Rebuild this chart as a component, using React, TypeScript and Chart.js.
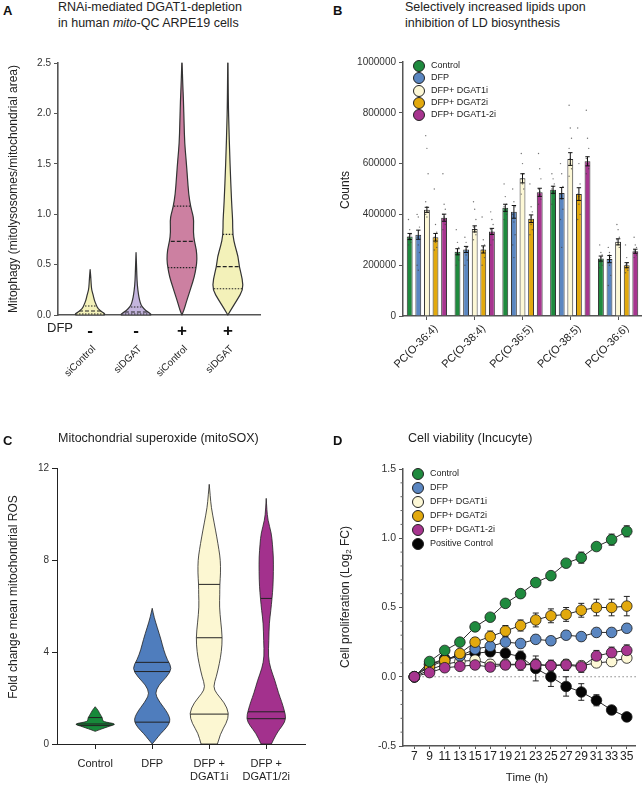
import React, { useEffect, useRef } from "react";
import { Chart, registerables } from "chart.js";

Chart.register(...registerables);

const FONT = "'Liberation Sans', Arial, Helvetica, sans-serif";
Chart.defaults.font.family = FONT;
Chart.defaults.color = "#222";

// ---------------- Panel A data ----------------
const aGroupLabels = ["siControl", "siDGAT", "siControl", "siDGAT"];
const aDfpLabels = ["-", "-", "+", "+"];
const aYTicks = [0, 0.5, 1, 1.5, 2, 2.5];
const aLevels1 = [0, 0.01, 0.03, 0.06, 0.1, 0.15, 0.2, 0.25, 0.3, 0.38, 0.45];
const aDensity1 = [0.93, 1, 0.8, 0.53, 0.4, 0.27, 0.2, 0.1, 0.07, 0.04, 0];
const aLevels2 = [0, 0.01, 0.03, 0.06, 0.1, 0.15, 0.2, 0.3, 0.4, 0.5, 0.62];
const aDensity2 = [0.97, 1, 0.77, 0.52, 0.32, 0.23, 0.16, 0.08, 0.05, 0.03, 0];
const aLevels3 = [0, 0.05, 0.12, 0.2, 0.28, 0.38, 0.47, 0.55, 0.65, 0.73, 0.82, 0.94, 1.0, 1.07, 1.2, 1.37, 1.55, 1.7, 1.9, 2.13, 2.3, 2.5];
const aDensity3 = [0, 0.14, 0.27, 0.44, 0.61, 0.82, 0.93, 1, 0.95, 0.82, 0.75, 0.78, 0.71, 0.58, 0.44, 0.36, 0.27, 0.18, 0.14, 0.1, 0.05, 0.01];
const aLevels4 = [0, 0.05, 0.15, 0.25, 0.35, 0.48, 0.58, 0.68, 0.79, 0.94, 1.05, 1.21, 1.4, 1.6, 1.86, 2.1, 2.5];
const aDensity4 = [0, 0.2, 0.61, 1, 0.97, 0.75, 0.68, 0.48, 0.32, 0.32, 0.27, 0.22, 0.17, 0.12, 0.07, 0.03, 0.01];
const aMedians = [0.04, 0.03, 0.73, 0.48];
const aLowerQ = [0.01, 0.01, 0.47, 0.26];
const aUpperQ = [0.09, 0.08, 1.08, 0.8];
const aColors = ["#f3f1b9", "#c4b5de", "#cc80a1", "#f3f1b9"];

// ---------------- Panel B data ----------------
const bCategories = ["PC(O-36:4)", "PC(O-38:4)", "PC(O-36:5)", "PC(O-38:5)", "PC(O-36:6)"];
const bSeriesNames = ["Control", "DFP", "DFP+ DGAT1i", "DFP+ DGAT2i", "DFP+ DGAT1-2i"];
const bYTicks = [0, 200000, 400000, 600000, 800000, 1000000];
const bControl = [313000, 253000, 426000, 497000, 226000];
const bDFP = [320000, 262000, 410000, 484000, 224000];
const bDGAT1i = [418000, 343000, 542000, 618000, 292000];
const bDGAT2i = [310000, 262000, 383000, 480000, 200000];
const bDGAT12i = [387000, 333000, 487000, 609000, 255000];
const bControlErr = [12000, 12000, 14000, 14000, 10000];
const bDFPErr = [18000, 12000, 25000, 22000, 14000];
const bDGAT1iErr = [10000, 12000, 18000, 25000, 12000];
const bDGAT2iErr = [15000, 14000, 15000, 25000, 10000];
const bDGAT12iErr = [14000, 12000, 16000, 18000, 8000];
const bControlPts = [
  [380000, 340000, 320000, 310000, 300000, 290000, 280000, 300000],
  [340000, 290000, 270000, 250000, 240000, 220000, 200000, 260000],
  [520000, 470000, 440000, 430000, 410000, 400000, 380000, 420000],
  [560000, 540000, 520000, 500000, 480000, 460000, 440000, 510000],
  [280000, 250000, 240000, 220000, 210000, 200000, 190000, 230000],
];
const bDFPPts = [
  [400000, 390000, 350000, 310000, 280000, 250000, 200000, 180000],
  [310000, 290000, 270000, 250000, 240000, 220000, 200000, 260000],
  [500000, 450000, 430000, 400000, 370000, 320000, 280000, 230000],
  [600000, 560000, 510000, 480000, 460000, 420000, 380000, 270000],
  [270000, 250000, 230000, 210000, 200000, 160000, 120000, 240000],
];
const bDGAT1iPts = [
  [710000, 660000, 560000, 450000, 430000, 410000, 400000, 390000],
  [450000, 420000, 380000, 350000, 330000, 320000, 300000, 340000],
  [640000, 600000, 560000, 540000, 520000, 500000, 480000, 560000],
  [830000, 740000, 700000, 660000, 620000, 580000, 550000, 600000],
  [360000, 340000, 310000, 290000, 280000, 270000, 300000, 290000],
];
const bDGAT2iPts = [
  [500000, 360000, 330000, 310000, 290000, 270000, 260000, 300000],
  [390000, 300000, 280000, 260000, 250000, 230000, 200000, 270000],
  [520000, 430000, 410000, 380000, 360000, 340000, 320000, 390000],
  [740000, 600000, 520000, 480000, 440000, 400000, 380000, 470000],
  [280000, 230000, 210000, 200000, 190000, 180000, 170000, 205000],
];
const bDGAT12iPts = [
  [560000, 440000, 420000, 400000, 380000, 360000, 340000, 390000],
  [410000, 380000, 360000, 340000, 320000, 300000, 280000, 330000],
  [640000, 580000, 540000, 500000, 480000, 460000, 440000, 490000],
  [810000, 700000, 660000, 620000, 600000, 580000, 560000, 610000],
  [310000, 280000, 270000, 260000, 250000, 240000, 230000, 255000],
];

// ---------------- Panel C data ----------------
const cLabels = [["Control"], ["DFP"], ["DFP +", "DGAT1i"], ["DFP +", "DGAT1/2i"]];
const cYTicks = [0, 4, 8, 12];
const cLevels1 = [0.55, 0.62, 0.7, 0.78, 0.85, 0.9, 0.95, 1.0, 1.1, 1.2, 1.3, 1.45, 1.62];
const cDensity1 = [0, 0.21, 0.47, 0.74, 1, 0.89, 0.53, 0.37, 0.37, 0.32, 0.24, 0.16, 0];
const cLevels2 = [0, 0.2, 0.46, 0.7, 0.97, 1.2, 1.48, 1.7, 1.9, 2.2, 2.57, 2.9, 3.29, 3.65, 4.1, 4.52, 5.1, 5.5, 5.9];
const cDensity2 = [0, 0.19, 0.43, 0.71, 0.9, 0.86, 0.67, 0.48, 0.32, 0.14, 0.33, 0.71, 1, 0.76, 0.57, 0.45, 0.24, 0.1, 0];
const cLevels3 = [0, 0.47, 0.9, 1.33, 1.8, 2.2, 2.49, 2.93, 3.5, 4.0, 4.62, 5.3, 5.97, 6.5, 6.94, 7.43, 8.0, 8.43, 9.0, 9.6, 10.3, 10.8, 11.29];
const cDensity3 = [0.41, 0.56, 0.86, 1, 0.76, 0.36, 0.2, 0.36, 0.51, 0.61, 0.66, 0.58, 0.51, 0.53, 0.53, 0.57, 0.56, 0.49, 0.38, 0.25, 0.1, 0.05, 0];
const cLevels4 = [0, 0.46, 0.8, 1.1, 1.48, 1.85, 2.2, 2.78, 3.3, 3.8, 4.5, 5.25, 5.8, 6.33, 6.84, 7.5, 8.14, 8.7, 9.16, 9.74, 10.2, 10.68];
const cDensity4 = [0.26, 0.51, 0.82, 1, 0.9, 0.77, 0.62, 0.43, 0.21, 0.1, 0.13, 0.15, 0.23, 0.29, 0.34, 0.36, 0.36, 0.31, 0.26, 0.08, 0.03, 0];
const cQuartiles = [
  [0.8, 0.87, 1.15],
  [0.95, 3.15, 3.55],
  [1.3, 4.62, 6.94],
  [1.1, 1.4, 6.33],
];
const cColors = ["#17893a", "#4f7dbd", "#fcf7d2", "#a3318d"];

// ---------------- Panel D data ----------------
const dTimes = [7, 9, 11, 13, 15, 17, 19, 21, 23, 25, 27, 29, 31, 33, 35];
const dYTicks = [-0.5, 0, 0.5, 1, 1.5];
const dMinorTicks = [-0.4, -0.3, -0.2, -0.1, 0.1, 0.2, 0.3, 0.4, 0.6, 0.7, 0.8, 0.9, 1.1, 1.2, 1.3, 1.4];
const dSeriesNames = ["Control", "DFP", "DFP+ DGAT1i", "DFP+ DGAT2i", "DFP+ DGAT1-2i", "Positive Control"];
const dControl = [0, 0.11, 0.19, 0.25, 0.36, 0.43, 0.53, 0.6, 0.68, 0.73, 0.82, 0.86, 0.94, 0.99, 1.05];
const dDFP = [0, 0.09, 0.12, 0.15, 0.2, 0.22, 0.25, 0.24, 0.27, 0.26, 0.3, 0.29, 0.32, 0.32, 0.35];
const dDGAT1i = [0, 0.05, 0.09, 0.11, 0.12, 0.09, 0.09, 0.09, 0.09, 0.08, 0.09, 0.08, 0.1, 0.11, 0.135];
const dDGAT2i = [0, 0.075, 0.116, 0.168, 0.25, 0.29, 0.33, 0.37, 0.41, 0.44, 0.45, 0.48, 0.5, 0.5, 0.51];
const dDGAT12i = [0, 0.03, 0.065, 0.075, 0.085, 0.07, 0.085, 0.087, 0.087, 0.08, 0.085, 0.072, 0.15, 0.174, 0.19];
const dPositive = [0, 0.09, 0.13, 0.15, 0.17, 0.18, 0.17, 0.145, 0.06, 0, -0.07, -0.11, -0.17, -0.24, -0.29];
const dControlErr = [0, 0.015, 0.02, 0.015, 0.015, 0.015, 0.02, 0.02, 0.02, 0.02, 0.02, 0.04, 0.02, 0.04, 0.04];
const dDFPErr = [0, 0.02, 0.02, 0.02, 0.03, 0.03, 0.03, 0.03, 0.03, 0.03, 0.03, 0.03, 0.03, 0.03, 0.03];
const dDGAT1iErr = [0, 0.02, 0.02, 0.02, 0.03, 0.03, 0.03, 0.03, 0.03, 0.03, 0.03, 0.03, 0.03, 0.03, 0.03];
const dDGAT2iErr = [0, 0.02, 0.02, 0.03, 0.03, 0.04, 0.04, 0.04, 0.05, 0.05, 0.05, 0.05, 0.06, 0.06, 0.07];
const dDGAT12iErr = [0, 0.01, 0.02, 0.02, 0.02, 0.03, 0.03, 0.04, 0.04, 0.04, 0.04, 0.04, 0.04, 0.04, 0.04];
const dPositiveErr = [0, 0.02, 0.02, 0.02, 0.02, 0.03, 0.03, 0.04, 0.09, 0.07, 0.07, 0.06, 0.04, 0.02, 0.02];

const SERIES_COLORS = ["#1f8a3e", "#5a86c1", "#fdf8d6", "#e2a90d", "#a7358f", "#050505"];

// ---------------- helpers ----------------
type Violin = {
  pos: number;
  levels: number[];
  density: number[];
  fill: string;
  lines: { v: number; dash: number[] }[];
};

function smoothSide(ctx: any, pts: number[][]) {
  for (let i = 1; i < pts.length - 1; i++) {
    const mx = (pts[i][0] + pts[i + 1][0]) / 2;
    const my = (pts[i][1] + pts[i + 1][1]) / 2;
    ctx.quadraticCurveTo(pts[i][0], pts[i][1], mx, my);
  }
  const last = pts[pts.length - 1];
  ctx.lineTo(last[0], last[1]);
}

function makeViolinPlugin(violins: Violin[], maxHalf: number, outline: string, outlineW: number, lineW: number) {
  return {
    id: "violins",
    afterDatasetsDraw(chart: any) {
      const { ctx } = chart;
      const x = chart.scales.x;
      const y = chart.scales.y;
      for (const v of violins) {
        const cx = x.getPixelForValue(v.pos);
        const hw = x.getPixelForValue(v.pos + maxHalf) - cx;
        const right = v.levels.map((l, i) => [cx + v.density[i] * hw, y.getPixelForValue(l)]);
        const left = right.map(([px, py]) => [2 * cx - px, py]).reverse();
        const path = new Path2D();
        path.moveTo(right[0][0], right[0][1]);
        smoothSide(path, right);
        path.lineTo(left[0][0], left[0][1]);
        smoothSide(path, left);
        path.closePath();
        ctx.save();
        ctx.fillStyle = v.fill;
        ctx.fill(path);
        ctx.save();
        ctx.clip(path);
        ctx.strokeStyle = "#222";
        ctx.lineWidth = lineW;
        for (const ln of v.lines) {
          const py = y.getPixelForValue(ln.v);
          ctx.setLineDash(ln.dash);
          ctx.beginPath();
          ctx.moveTo(cx - hw - 2, py);
          ctx.lineTo(cx + hw + 2, py);
          ctx.stroke();
        }
        ctx.restore();
        ctx.setLineDash([]);
        ctx.strokeStyle = outline;
        ctx.lineWidth = outlineW;
        ctx.lineJoin = "round";
        ctx.stroke(path);
        ctx.restore();
      }
    },
  };
}

function fixedTicks(values: number[]) {
  return (s: any) => {
    s.ticks = values.map((v) => ({ value: v }));
  };
}

function ChartCanvas(props: { left: number; top: number; width: number; height: number; make: () => any }) {
  const ref = useRef<HTMLCanvasElement>(null);
  useEffect(() => {
    const chart = new Chart(ref.current as HTMLCanvasElement, props.make());
    return () => chart.destroy();
  }, []);
  return (
    <canvas
      ref={ref}
      width={props.width}
      height={props.height}
      style={{ position: "absolute", left: props.left, top: props.top, width: props.width, height: props.height }}
    />
  );
}

// ---------------- chart configs ----------------
function makeA() {
  const levels = [aLevels1, aLevels2, aLevels3, aLevels4];
  const dens = [aDensity1, aDensity2, aDensity3, aDensity4];
  const violins: Violin[] = levels.map((lv, i) => ({
    pos: i + 1,
    levels: lv,
    density: dens[i],
    fill: aColors[i],
    lines: [
      { v: aLowerQ[i], dash: [1.5, 1.5] },
      { v: aMedians[i], dash: [4, 2] },
      { v: aUpperQ[i], dash: [1.5, 1.5] },
    ],
  }));
  const xTicks = aGroupLabels.map((_, i) => i + 1);
  return {
    type: "scatter",
    data: { datasets: [{ data: [] }] },
    options: {
      responsive: false,
      animation: false,
      layout: { padding: { top: 13, right: 10, left: 0, bottom: 0 } },
      plugins: { legend: { display: false }, tooltip: { enabled: false } },
      scales: {
        x: {
          type: "linear",
          min: 0.3,
          max: 4.7,
          position: "bottom",
          weight: 0,
          afterBuildTicks: fixedTicks(xTicks),
          afterFit: (s: any) => {
            s.height = 20;
          },
          grid: { display: false },
          border: { display: true, color: "#555", width: 1.6 },
          ticks: {
            callback: (v: number) => aDfpLabels[Math.round(v) - 1],
            font: { size: 17, weight: "bold", lineHeight: 1 },
            color: "#111",
            padding: 0,
            autoSkip: false,
            maxRotation: 0,
          },
        },
        x2: {
          type: "linear",
          min: 0.3,
          max: 4.7,
          position: "bottom",
          weight: 1,
          afterBuildTicks: fixedTicks(xTicks),
          afterFit: (s: any) => {
            s.height = 45;
          },
          grid: { display: false },
          border: { display: false },
          ticks: {
            callback: (v: number) => aGroupLabels[Math.round(v) - 1],
            font: { size: 10 },
            color: "#222",
            minRotation: 45,
            maxRotation: 45,
            autoSkip: false,
            padding: 0,
            labelOffset: 4,
          },
        },
        y: {
          type: "linear",
          min: 0,
          max: 2.5,
          afterBuildTicks: fixedTicks(aYTicks),
          afterFit: (s: any) => {
            s.width = 58;
          },
          grid: { display: true, drawOnChartArea: false, drawTicks: true, tickLength: 4, color: "#555" },
          border: { display: true, color: "#555", width: 1.6 },
          ticks: { callback: (v: number) => v.toFixed(1), font: { size: 10 }, color: "#333", padding: 3 },
        },
      },
    },
    plugins: [makeViolinPlugin(violins, 0.33, "#333", 1.2, 1.1)],
  };
}

function makeB() {
  const means = [bControl, bDFP, bDGAT1i, bDGAT2i, bDGAT12i];
  const errs = [bControlErr, bDFPErr, bDGAT1iErr, bDGAT2iErr, bDGAT12iErr];
  const pts = [bControlPts, bDFPPts, bDGAT1iPts, bDGAT2iPts, bDGAT12iPts];
  const errPlugin = {
    id: "bErr",
    afterDatasetsDraw(chart: any) {
      const { ctx } = chart;
      const y = chart.scales.y;
      ctx.save();
      means.forEach((m, di) => {
        const meta = chart.getDatasetMeta(di);
        meta.data.forEach((bar: any, i: number) => {
          const bx = bar.x;
          ctx.fillStyle = "rgba(70,70,70,0.75)";
          pts[di][i].forEach((v, j) => {
            ctx.beginPath();
            ctx.arc(bx + ((j % 3) - 1) * 1.2, y.getPixelForValue(v), 0.7, 0, Math.PI * 2);
            ctx.fill();
          });
          const yt = y.getPixelForValue(m[i] + errs[di][i]);
          const yb = y.getPixelForValue(m[i] - errs[di][i]);
          ctx.strokeStyle = "#111";
          ctx.lineWidth = 1;
          ctx.beginPath();
          ctx.moveTo(bx, yb);
          ctx.lineTo(bx, yt);
          ctx.moveTo(bx - 2.2, yt);
          ctx.lineTo(bx + 2.2, yt);
          ctx.moveTo(bx - 2.2, yb);
          ctx.lineTo(bx + 2.2, yb);
          ctx.stroke();
        });
      });
      ctx.restore();
    },
  };
  return {
    type: "bar",
    data: {
      labels: bCategories,
      datasets: means.map((m, i) => ({
        label: bSeriesNames[i],
        data: m,
        backgroundColor: SERIES_COLORS[i],
        borderColor: "#333",
        borderWidth: 1,
        categoryPercentage: 0.9,
        barPercentage: 0.68,
      })),
    },
    options: {
      responsive: false,
      animation: false,
      layout: { padding: { top: 12, right: 0, left: 0, bottom: 0 } },
      plugins: { legend: { display: false }, tooltip: { enabled: false } },
      scales: {
        x: {
          afterFit: (s: any) => {
            s.height = 69;
          },
          grid: { display: true, drawOnChartArea: false, drawTicks: true, tickLength: 4, offset: false, color: "#555" },
          border: { display: true, color: "#555", width: 1.5 },
          ticks: { font: { size: 11 }, color: "#222", minRotation: 45, maxRotation: 45, autoSkip: false, padding: 2, labelOffset: 9 },
        },
        y: {
          min: 0,
          max: 1000000,
          afterBuildTicks: fixedTicks(bYTicks),
          afterFit: (s: any) => {
            s.width = 73;
          },
          grid: { display: true, drawOnChartArea: false, drawTicks: true, tickLength: 4, color: "#555" },
          border: { display: true, color: "#555", width: 1.5 },
          ticks: { callback: (v: number) => String(v), font: { size: 10 }, color: "#333", padding: 3 },
        },
      },
    },
    plugins: [errPlugin],
  };
}

function makeC() {
  const levels = [cLevels1, cLevels2, cLevels3, cLevels4];
  const dens = [cDensity1, cDensity2, cDensity3, cDensity4];
  const violins: Violin[] = levels.map((lv, i) => ({
    pos: i + 1,
    levels: lv,
    density: dens[i],
    fill: cColors[i],
    lines: cQuartiles[i].map((q) => ({ v: q, dash: [] })),
  }));
  return {
    type: "scatter",
    data: { datasets: [{ data: [] }] },
    options: {
      responsive: false,
      animation: false,
      layout: { padding: { top: 13, right: 5, left: 0, bottom: 0 } },
      plugins: { legend: { display: false }, tooltip: { enabled: false } },
      scales: {
        x: {
          type: "linear",
          min: 0.33,
          max: 4.68,
          afterBuildTicks: fixedTicks([1, 2, 3, 4]),
          afterFit: (s: any) => {
            s.height = 41;
          },
          grid: { display: true, drawOnChartArea: false, drawTicks: true, tickLength: 5, color: "#222" },
          border: { display: true, color: "#222", width: 1 },
          ticks: {
            callback: (v: number) => cLabels[Math.round(v) - 1],
            font: { size: 11, lineHeight: 1.2 },
            color: "#222",
            padding: 8,
            autoSkip: false,
            maxRotation: 0,
          },
        },
        y: {
          type: "linear",
          min: 0,
          max: 12,
          afterBuildTicks: fixedTicks(cYTicks),
          afterFit: (s: any) => {
            s.width = 57;
          },
          grid: { display: true, drawOnChartArea: false, drawTicks: true, tickLength: 5, color: "#222" },
          border: { display: true, color: "#222", width: 1 },
          ticks: { callback: (v: number) => String(v), font: { size: 10 }, color: "#333", padding: 3 },
        },
      },
    },
    plugins: [makeViolinPlugin(violins, 0.35, "#222", 0.8, 1)],
  };
}

function makeD() {
  const vals = [dControl, dDFP, dDGAT1i, dDGAT2i, dDGAT12i, dPositive];
  const errs = [dControlErr, dDFPErr, dDGAT1iErr, dDGAT2iErr, dDGAT12iErr, dPositiveErr];
  const orders = [1, 3, 4, 2, 0, 5];
  const extras = {
    id: "dExtras",
    beforeDatasetsDraw(chart: any) {
      const { ctx } = chart;
      const x = chart.scales.x;
      const y = chart.scales.y;
      ctx.save();
      ctx.strokeStyle = "#888";
      ctx.lineWidth = 1;
      ctx.setLineDash([1.5, 2.5]);
      ctx.beginPath();
      ctx.moveTo(x.getPixelForValue(dTimes[0]), y.getPixelForValue(0));
      ctx.lineTo(chart.chartArea.right, y.getPixelForValue(0));
      ctx.stroke();
      ctx.setLineDash([]);
      ctx.strokeStyle = "#222";
      ctx.lineWidth = 1;
      vals.forEach((s, si) => {
        s.forEach((v, i) => {
          const e = errs[si][i];
          if (!e) return;
          const px = x.getPixelForValue(dTimes[i]);
          const yt = y.getPixelForValue(v + e);
          const yb = y.getPixelForValue(v - e);
          ctx.beginPath();
          ctx.moveTo(px, yb);
          ctx.lineTo(px, yt);
          ctx.moveTo(px - 3, yt);
          ctx.lineTo(px + 3, yt);
          ctx.moveTo(px - 3, yb);
          ctx.lineTo(px + 3, yb);
          ctx.stroke();
        });
      });
      ctx.strokeStyle = "#666";
      ctx.beginPath();
      dMinorTicks.forEach((v) => {
        const py = y.getPixelForValue(v);
        ctx.moveTo(x.left - 2.5, py);
        ctx.lineTo(x.left, py);
      });
      ctx.stroke();
      ctx.restore();
    },
  };
  return {
    type: "line",
    data: {
      datasets: vals.map((s, i) => ({
        label: dSeriesNames[i],
        data: dTimes.map((t, j) => ({ x: t, y: s[j] })),
        borderColor: "#2a2a2a",
        borderWidth: 1,
        backgroundColor: SERIES_COLORS[i],
        pointBackgroundColor: SERIES_COLORS[i],
        pointBorderColor: "#1a1a1a",
        pointBorderWidth: 0.8,
        pointRadius: 5.3,
        fill: false,
        tension: 0,
        order: orders[i],
      })),
    },
    options: {
      responsive: false,
      animation: false,
      layout: { padding: { top: 14, right: 2, left: 0, bottom: 0 } },
      plugins: { legend: { display: false }, tooltip: { enabled: false } },
      scales: {
        x: {
          type: "linear",
          min: 5.5,
          max: 36.2,
          afterBuildTicks: fixedTicks(dTimes),
          afterFit: (s: any) => {
            s.height = 39;
          },
          grid: { display: true, drawOnChartArea: false, drawTicks: true, tickLength: 3, color: "#555" },
          border: { display: true, color: "#555", width: 1.5 },
          ticks: { callback: (v: number) => String(v), font: { size: 12 }, color: "#222", padding: 0, autoSkip: false, maxRotation: 0 },
        },
        y: {
          type: "linear",
          min: -0.5,
          max: 1.5,
          afterBuildTicks: fixedTicks(dYTicks),
          afterFit: (s: any) => {
            s.width = 73;
          },
          grid: { display: true, drawOnChartArea: false, drawTicks: true, tickLength: 4, color: "#555" },
          border: { display: true, color: "#555", width: 1.5 },
          ticks: { callback: (v: number) => v.toFixed(1), font: { size: 10.5 }, color: "#333", padding: 3 },
        },
      },
    },
    plugins: [extras],
  };
}

// ---------------- html text helpers ----------------
const baseText: React.CSSProperties = {
  position: "absolute",
  fontFamily: FONT,
  color: "#222",
  whiteSpace: "nowrap",
};

function VTitle(props: { cx: number; cy: number; children: any; size?: number }) {
  return (
    <div
      style={{
        ...baseText,
        left: props.cx,
        top: props.cy,
        fontSize: props.size || 12,
        lineHeight: "14px",
        transform: "translate(-50%, -50%) rotate(-90deg)",
      }}
    >
      {props.children}
    </div>
  );
}

function Legend(props: { left: number; top: number; step: number; names: string[] }) {
  return (
    <div style={{ position: "absolute", left: props.left, top: props.top }}>
      {props.names.map((n, i) => (
        <div key={n} style={{ position: "absolute", left: 0, top: i * props.step, height: 12, width: 120 }}>
          <div
            style={{
              position: "absolute",
              left: 0,
              top: 0,
              width: 10,
              height: 10,
              borderRadius: "50%",
              border: "1px solid #222",
              background: SERIES_COLORS[i],
            }}
          />
          <div style={{ ...baseText, left: 18, top: -1, fontSize: 9, lineHeight: "13px" }}>{n}</div>
        </div>
      ))}
    </div>
  );
}

export default function App() {
  const letter: React.CSSProperties = { ...baseText, fontWeight: "bold", fontSize: 13, lineHeight: "15px", color: "#111" };
  const title: React.CSSProperties = { ...baseText, fontSize: 12.5, lineHeight: "16px" };
  return (
    <div style={{ position: "absolute", left: 0, top: 0, width: 642, height: 785, background: "#fff", overflow: "hidden" }}>
      <ChartCanvas left={0} top={50} width={270} height={330} make={makeA} />
      <ChartCanvas left={330} top={50} width={312} height={335} make={makeB} />
      <ChartCanvas left={0} top={455} width={310} height={330} make={makeC} />
      <ChartCanvas left={330} top={455} width={312} height={330} make={makeD} />

      <div style={{ ...letter, left: 3, top: 3 }}>A</div>
      <div style={{ ...title, left: 58, top: -1 }}>
        RNAi-mediated DGAT1-depletion
        <br />
        in human <i>mito</i>-QC ARPE19 cells
      </div>
      <VTitle cx={13} cy={189}>Mitophagy (mitolysosomes/mitochondrial area)</VTitle>
      <div style={{ ...baseText, left: 47, top: 320, fontSize: 13, lineHeight: "16px" }}>DFP</div>

      <div style={{ ...letter, left: 333, top: 3 }}>B</div>
      <div style={{ ...title, left: 405, top: -1 }}>
        Selectively increased lipids upon
        <br />
        inhibition of LD biosynthesis
      </div>
      <VTitle cx={345} cy={190}>Counts</VTitle>
      <Legend left={413} top={60} step={12.3} names={bSeriesNames} />

      <div style={{ ...letter, left: 3, top: 433 }}>C</div>
      <div style={{ ...title, left: 58, top: 430 }}>Mitochondrial superoxide (mitoSOX)</div>
      <VTitle cx={13} cy={597}>Fold change mean mitochondrial ROS</VTitle>

      <div style={{ ...letter, left: 333, top: 433 }}>D</div>
      <div style={{ ...title, left: 408, top: 430 }}>Cell viability (Incucyte)</div>
      <VTitle cx={345} cy={597}>
        Cell proliferation (Log<sub style={{ fontSize: 8, verticalAlign: "-2px", lineHeight: 0 }}>2</sub> FC)
      </VTitle>
      <div style={{ ...baseText, left: 527, top: 777, fontSize: 11.5, transform: "translate(-50%, -50%)" }}>Time (h)</div>
      <Legend left={412} top={468} step={13.9} names={dSeriesNames} />
    </div>
  );
}
